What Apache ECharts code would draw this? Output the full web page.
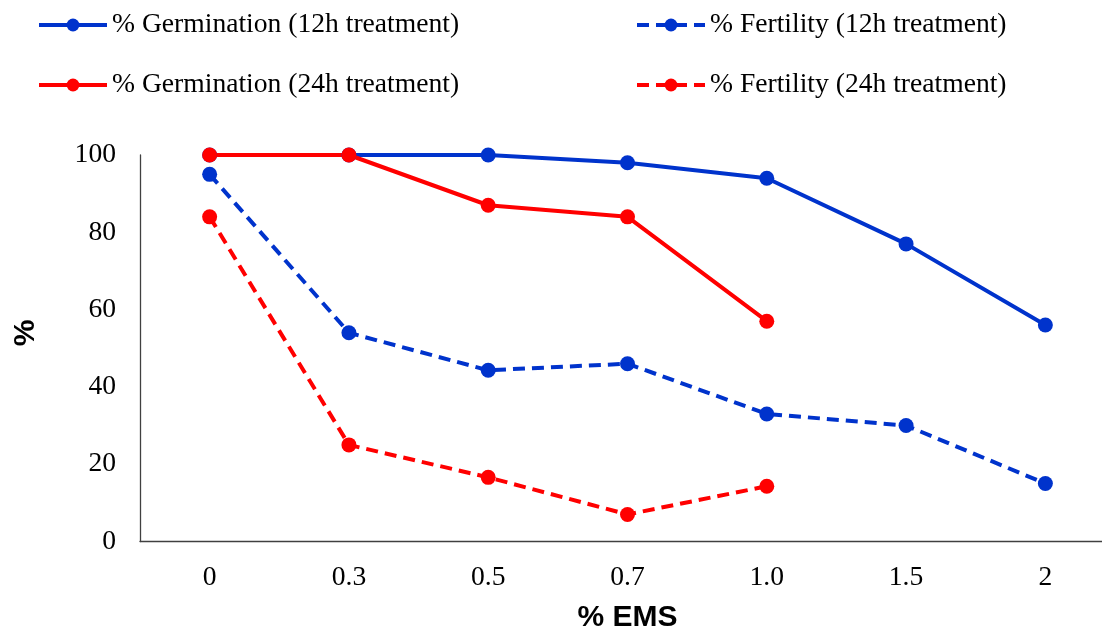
<!DOCTYPE html>
<html>
<head>
<meta charset="utf-8">
<script src="https://cdn.jsdelivr.net/npm/echarts@6/dist/echarts.min.js"></script>
<style>
  html, body { margin: 0; padding: 0; background: #fff; }
  #chart { width: 1102px; height: 631px; }
</style>
</head>
<body>
<div id="chart"></div>
<script>
// EMS concentrations (%) on the x axis
const emsLevels = ['0', '0.3', '0.5', '0.7', '1.0', '1.5', '2'];

// Germination and fertility percentages per treatment duration
const germination12h = [100, 100, 100, 98, 94, 77, 56];
const fertility12h   = [95, 54, 44.3, 46, 33, 30, 15];
const germination24h = [100, 100, 87, 84, 57, null, null];
const fertility24h   = [84, 25, 16.6, 7, 14.3, null, null];

const seriesNames = [
  '% Germination (12h treatment)',
  '% Fertility (12h treatment)',
  '% Germination (24h treatment)',
  '% Fertility (24h treatment)'
];

const BLUE = '#0033CC';
const RED = '#FF0000';
const AXIS = '#404040';
const SERIF = '"Liberation Serif", "Times New Roman", serif';
const SANS = '"Liberation Sans", Arial, sans-serif';

function lineSeries(name, data, color, dashed) {
  return {
    name: name,
    type: 'line',
    data: data,
    symbol: 'circle',
    symbolSize: 15,
    connectNulls: false,
    itemStyle: { color: color },
    lineStyle: { color: color, width: 4, type: dashed ? [12, 7] : 'solid' },
    emphasis: { disabled: true },
    animation: false
  };
}

function legendAt(name, left, top) {
  return {
    data: [name],
    left: left,
    top: top,
    padding: 0,
    itemWidth: 68,
    itemHeight: 16,
    selectedMode: false,
    lineStyle: { width: 4 },
    textStyle: { fontFamily: SERIF, fontSize: 27.6, color: '#000' }
  };
}

const chart = echarts.init(document.getElementById('chart'), null, { renderer: 'canvas' });

chart.setOption({
  backgroundColor: '#fff',
  legend: [
    legendAt(seriesNames[0], 37, 11),
    legendAt(seriesNames[1], 635, 11),
    legendAt(seriesNames[2], 37, 71),
    legendAt(seriesNames[3], 635, 71)
  ],
  // the plot frame runs a little past the right edge of the canvas
  grid: {
    left: 140,
    top: 155,
    width: 975,
    height: 386.5,
    containLabel: false,
    outerBoundsMode: 'none'
  },
  xAxis: {
    type: 'category',
    data: emsLevels,
    boundaryGap: true,
    name: '% EMS',
    nameLocation: 'middle',
    nameGap: 61,
    nameTextStyle: { fontFamily: SANS, fontWeight: 'bold', fontSize: 30, color: '#000' },
    axisLine: { lineStyle: { color: AXIS, width: 1.3 } },
    axisTick: { show: false },
    axisLabel: { fontFamily: SERIF, fontSize: 27.6, color: '#000', margin: 22 },
    splitLine: { show: false }
  },
  yAxis: {
    type: 'value',
    min: 0,
    max: 100,
    interval: 20,
    axisLine: { show: true, lineStyle: { color: AXIS, width: 1.3 } },
    axisTick: { show: false },
    axisLabel: { fontFamily: SERIF, fontSize: 27.6, color: '#000', margin: 24 },
    splitLine: { show: false }
  },
  graphic: [{
    type: 'text',
    x: 26,
    y: 333,
    rotation: Math.PI / 2,
    style: {
      text: '%',
      font: 'bold 30px ' + SANS,
      fill: '#000',
      align: 'center',
      verticalAlign: 'middle'
    }
  }],
  series: [
    lineSeries(seriesNames[0], germination12h, BLUE, false),
    lineSeries(seriesNames[1], fertility12h, BLUE, true),
    lineSeries(seriesNames[2], germination24h, RED, false),
    lineSeries(seriesNames[3], fertility24h, RED, true)
  ]
});
</script>
</body>
</html>
